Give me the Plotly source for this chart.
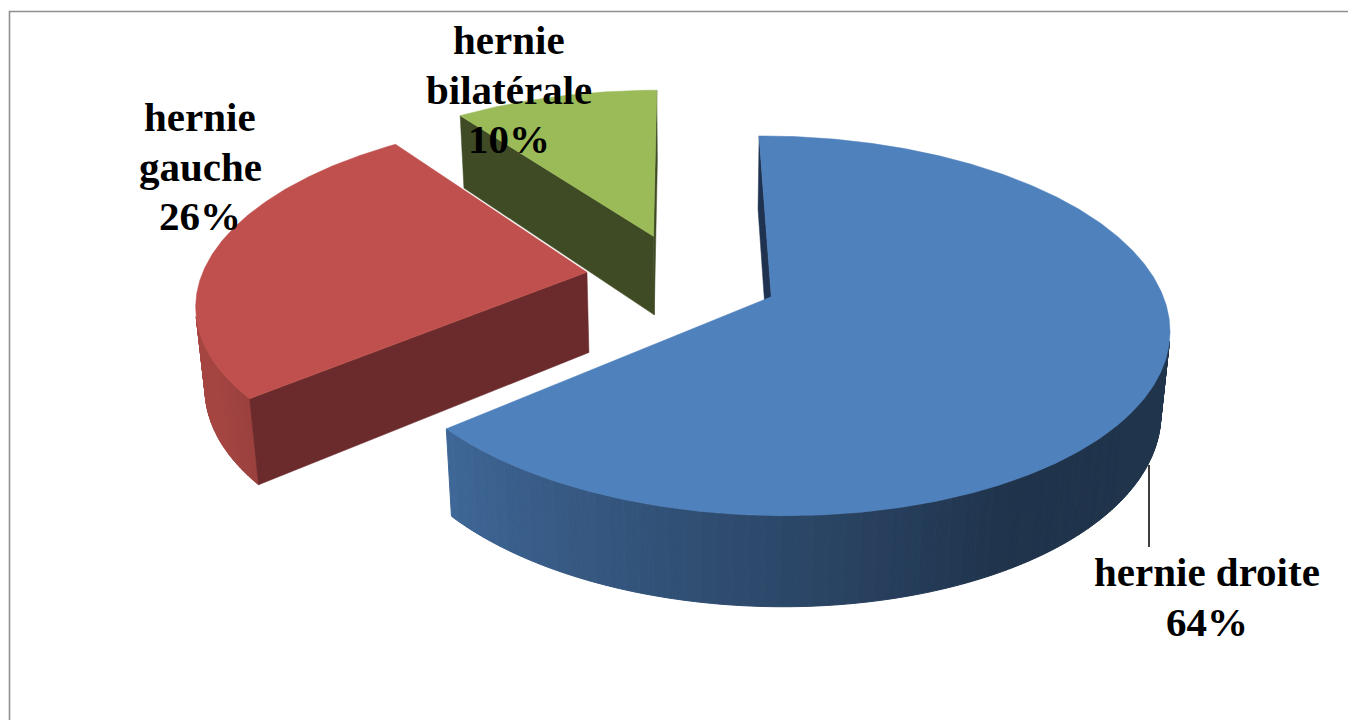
import numpy as np
import plotly.graph_objects as go

# ---------------- data ----------------
categories = ["hernie droite", "hernie gauche", "hernie bilatérale"]
values = [64, 26, 10]
label_name_lines = [["hernie droite"], ["hernie", "gauche"], ["hernie", "bilatérale"]]

# ---------------- style ----------------
W, H = 1348, 720
top_colors = ["#4F81BD", "#C0504D", "#9BBB59"]
cut_colors = ["#1F3350", "#6B2A2B", "#3F4B25"]
label_pos = [(1207, 586), (200, 131), (509, 54)]  # (center x, first baseline) in px
line_gap = 49.5
font_size = 41

# 3-D view parameters: principal point x/y, scale, tilt (rad), camera distance,
# explosion, thickness, first-slice rotation (deg), camera x/y offsets
VIEW = [694.9471, 263.5649, 385.8410, 0.4781, 5.8972, 0.2504, 0.2402, -0.3471, -0.0325, -0.0363]

total = sum(values)
spans = []
acc = 0
for v in values:
    spans.append((360.0 * acc / total, 360.0 * (acc + v) / total))
    acc += v


def proj(P, X, Y, Z):
    pcx, pcy, S, e, D, E, h, rot, xo, yo = P
    ys = Y * np.cos(e) + Z * np.sin(e) + yo
    d = Z * np.cos(e) - Y * np.sin(e)
    k = D / (D + d)
    return pcx + S * (X + xo) * k, pcy - S * ys * k


def offset(P, i):
    E, rot = P[5], P[7]
    a, b = spans[i]
    m = np.radians((a + b) / 2 + rot)
    return E * np.sin(m), E * np.cos(m)


def rim(P, i, th, top=True):
    ox, oz = offset(P, i)
    t = np.radians(np.asarray(th, float) + P[7])
    Y = np.zeros_like(t) if top else -P[6] * np.ones_like(t)
    return proj(P, ox + np.sin(t), Y, oz + np.cos(t))


def apex(P, i, top=True):
    ox, oz = offset(P, i)
    return proj(P, np.array([ox]), np.array([0.0 if top else -P[6]]), np.array([oz]))


def shade(th):
    return float(np.clip(0.6 + 0.005 * (th - 190.0), 0.4, 0.86))


def hex_rgb(c):
    c = c.lstrip('#')
    return tuple(int(c[k:k + 2], 16) for k in (0, 2, 4))


def area(xs, ys):
    xs = np.asarray(xs); ys = np.asarray(ys)
    return np.sum(xs * np.roll(ys, -1) - np.roll(xs, -1) * ys)


P = VIEW
fig = go.Figure()
order = sorted(range(len(values)), key=lambda i: -offset(P, i)[1])
for i in order:
    a, b = spans[i]
    ths = np.linspace(a, b, max(3, int((b - a) * 2) + 1))
    tx, ty = rim(P, i, ths, True)
    bx, by = rim(P, i, ths, False)
    axt, ayt = apex(P, i, True)
    axb, ayb = apex(P, i, False)
    base = hex_rgb(top_colors[i])
    groups = {}
    for j in range(len(ths) - 1):
        qx = [tx[j], tx[j + 1], bx[j + 1], bx[j]]
        qy = [ty[j], ty[j + 1], by[j + 1], by[j]]
        if area(qx, qy) < 0:
            f = round(shade((ths[j] + ths[j + 1]) / 2), 2)
            groups.setdefault(f, ([], []))
            groups[f][0].extend(qx + [qx[0], None])
            groups[f][1].extend(qy + [qy[0], None])
    for f, (gx, gy) in groups.items():
        col = "rgb(%d,%d,%d)" % tuple(int(round(c * f)) for c in base)
        fig.add_trace(go.Scatter(x=gx, y=gy, mode="lines", fill="toself", fillcolor=col,
                                 line=dict(color=col, width=1), hoverinfo="skip", showlegend=False))
    faces = [([axt[0], tx[0], bx[0], axb[0]], [ayt[0], ty[0], by[0], ayb[0]]),
             ([tx[-1], axt[0], axb[0], bx[-1]], [ty[-1], ayt[0], ayb[0], by[-1]])]
    for qx, qy in faces:
        if area(qx, qy) < 0:
            fig.add_trace(go.Scatter(x=qx + [qx[0]], y=qy + [qy[0]], mode="lines", fill="toself",
                                     fillcolor=cut_colors[i], line=dict(color=cut_colors[i], width=0.5),
                                     hoverinfo="skip", showlegend=False))
    fig.add_trace(go.Scatter(x=[axt[0]] + list(tx) + [axt[0]], y=[ayt[0]] + list(ty) + [ayt[0]],
                             mode="lines", fill="toself", fillcolor=top_colors[i],
                             line=dict(color=top_colors[i], width=0.5), name=categories[i],
                             hoverinfo="name", showlegend=False))

annotations = []
for i, lines in enumerate(label_name_lines):
    pct = "%d%%" % round(100.0 * values[i] / total)
    cx, y0 = label_pos[i]
    for k, t in enumerate(lines + [pct]):
        annotations.append(dict(x=cx, y=y0 + k * line_gap - 0.34 * font_size, xref="x", yref="y",
                                text=t, showarrow=False, xanchor="center", yanchor="middle",
                                font=dict(family="Liberation Serif", size=font_size, color="black",
                                          weight="bold")))

fig.update_layout(
    width=W, height=H, margin=dict(l=0, r=0, t=0, b=0),
    paper_bgcolor="white", plot_bgcolor="white",
    xaxis=dict(range=[0, W], visible=False, fixedrange=True),
    yaxis=dict(range=[H, 0], visible=False, fixedrange=True),
    annotations=annotations,
    shapes=[dict(type="rect", xref="x", yref="y", x0=9.5, y0=11.5, x1=W + 20, y1=H + 20,
                 line=dict(color="#8F8F8F", width=1.6)),
            dict(type="line", xref="x", yref="y", x0=1149, x1=1149, y0=465, y1=547,
                 line=dict(color="black", width=1.5))],
)
fig.write_html("out.html")
